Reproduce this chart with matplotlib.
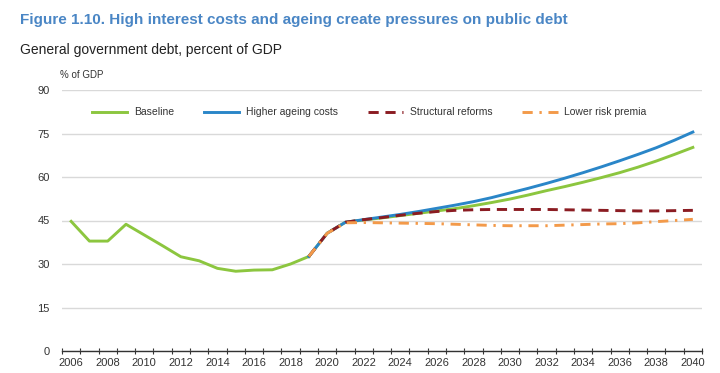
import numpy as np
import matplotlib
matplotlib.use("Agg")
import matplotlib.pyplot as plt
from matplotlib.ticker import FixedLocator

# --- data ---
hist_years = list(range(2006, 2020))
hist_debt = [44.7, 37.9, 37.9, 43.7, 40.0, 36.3, 32.5, 31.1, 28.5, 27.5, 27.9, 28.0, 30.0, 32.6]

proj_years = list(range(2019, 2041))
baseline = [32.6, 40.6, 44.4, 45.2, 45.9, 46.7, 47.5, 48.3, 49.1, 50.1, 51.2, 52.4, 53.8,
            55.3, 56.7, 58.2, 59.8, 61.5, 63.4, 65.5, 67.8, 70.2]
ageing = [32.6, 40.6, 44.4, 45.3, 46.2, 47.1, 48.1, 49.2, 50.3, 51.5, 52.9, 54.5, 56.1,
          57.8, 59.6, 61.5, 63.5, 65.6, 67.8, 70.1, 72.7, 75.5]
reforms = [32.6, 40.6, 44.4, 45.3, 46.0, 46.8, 47.5, 48.1, 48.5, 48.7, 48.8, 48.8, 48.8,
           48.8, 48.7, 48.6, 48.5, 48.4, 48.3, 48.3, 48.4, 48.5]
risk_premia = [32.6, 40.6, 44.2, 44.3, 44.2, 44.1, 44.0, 43.9, 43.7, 43.5, 43.3, 43.2, 43.2,
               43.2, 43.4, 43.6, 43.8, 43.9, 44.2, 44.6, 45.0, 45.4]

y_ticks = [0, 15, 30, 45, 60, 75, 90]
x_labels = list(range(2006, 2041, 2))

plt.rcParams["font.family"] = ["Liberation Sans Narrow", "Liberation Sans", "DejaVu Sans"]

C_GREEN = "#8cc63f"
C_BLUE = "#2a86c8"
C_RED = "#8b1c22"
C_ORANGE = "#f39a4a"

fig = plt.figure(figsize=(7.2, 3.73), dpi=100)
ax = fig.add_axes([62 / 720, 22 / 373, 640 / 720, 261 / 373])

ax.plot(hist_years, hist_debt, color=C_GREEN, lw=2.1, solid_joinstyle="round")
ax.plot(proj_years, baseline, color=C_GREEN, lw=2.1, label="Baseline")
ax.plot(proj_years, ageing, color=C_BLUE, lw=2.1, label="Higher ageing costs")
ax.plot(proj_years, reforms, color=C_RED, lw=2.1, ls=(0, (3.5, 2.3)), label="Structural reforms")
ax.plot(proj_years, risk_premia, color=C_ORANGE, lw=2.1, ls=(0, (3.5, 2.3, 0.8, 2.3)),
        label="Lower risk premia")

ax.set_xlim(2005.5, 2040.5)
ax.set_ylim(0, 90)
ax.set_yticks(y_ticks)
ax.yaxis.grid(True, color="#d9d9d9", lw=1.0)
ax.set_axisbelow(True)
ax.tick_params(axis="y", length=0, pad=9, labelsize=8, labelcolor="#333333")

ax.xaxis.set_major_locator(FixedLocator(x_labels))
ax.xaxis.set_minor_locator(FixedLocator(np.arange(2005.5, 2041, 1)))
ax.tick_params(axis="x", which="major", length=0, pad=5, labelsize=8, labelcolor="#333333")
ax.tick_params(axis="x", which="minor", direction="inout", length=5, width=0.8, color="#333333")

for sp in ("top", "right", "left"):
    ax.spines[sp].set_visible(False)
ax.spines["bottom"].set_color("#333333")
ax.spines["bottom"].set_linewidth(1.0)

leg = ax.legend(loc="upper center", bbox_to_anchor=(0.48, 0.97), ncol=4, frameon=False,
                fontsize=7.5, handlelength=3.4, columnspacing=2.9, handletextpad=0.6)
for t in leg.get_texts():
    t.set_color("#333333")

fig.text(20 / 720, 1 - 20 / 373, "Figure 1.10. High interest costs and ageing create pressures on public debt",
         fontsize=11, fontweight="bold", color="#4a86c5", va="center", ha="left")
fig.text(20 / 720, 1 - 50 / 373, "General government debt, percent of GDP",
         fontsize=10, color="#222222", va="center", ha="left")
fig.text(60 / 720, 1 - 75 / 373, "% of GDP", fontsize=7, color="#333333", va="center", ha="left")

fig.savefig("out.png", dpi=100)
